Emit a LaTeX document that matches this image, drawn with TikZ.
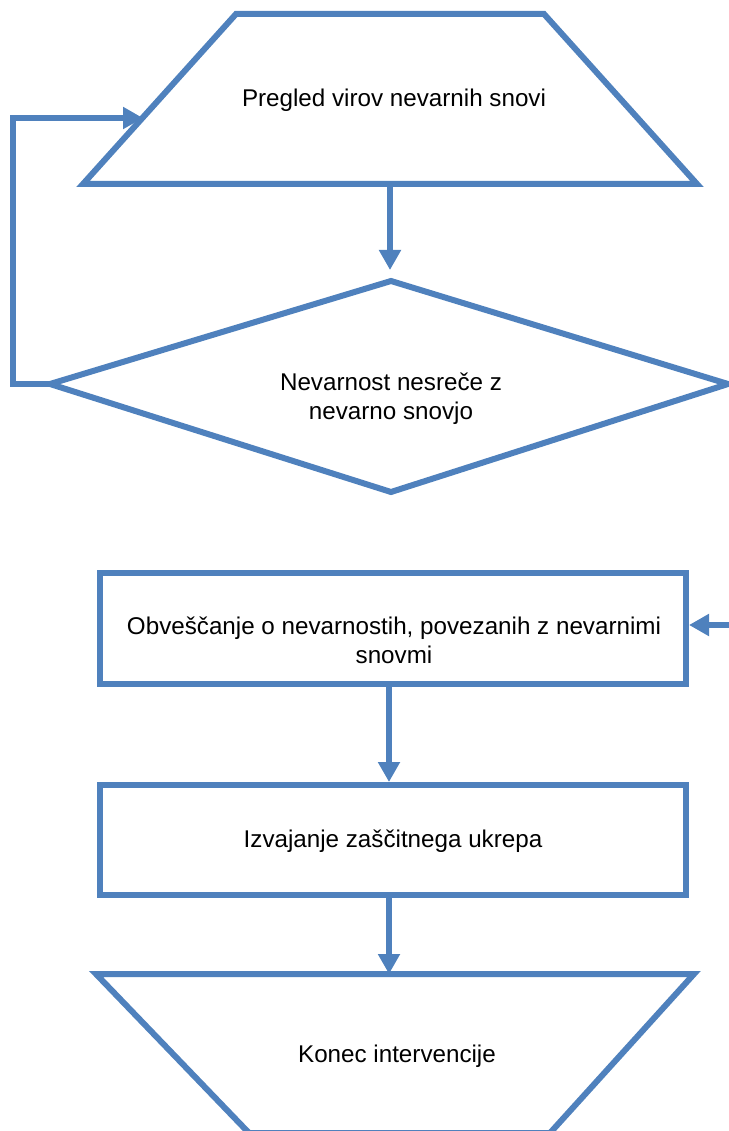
\documentclass[tikz,border=0pt]{standalone}
\usepackage{fontspec}
\setmainfont{Liberation Sans}
\usetikzlibrary{arrows.meta}
\definecolor{flowblue}{RGB}{79,129,189}
\tikzset{
  shapeline/.style={draw=flowblue, line width=6pt, line join=miter, fill=white},
  conn/.style={draw=flowblue, line width=6pt, -{Triangle[length=20pt,width=21pt]}},
  label/.style={align=center, text=black, font=\fontsize{24.2}{29}\selectfont, inner sep=0pt},
  box/.style={shapeline, minimum width=586pt, minimum height=111pt, inner sep=0pt}
}
\begin{document}
\begin{tikzpicture}[x=1pt,y=-1pt]
\useasboundingbox (0,0) rectangle (728,1131);
% top trapezoid
\coordinate (t1) at (236,14);
\coordinate (t2) at (544,14);
\coordinate (t3) at (697,184);
\coordinate (t4) at (83,184);
\draw[shapeline] (t1) -- (t2) -- (t3) -- (t4) -- cycle;
\node[label] (pregled) at (394,100) {Pregled virov nevarnih snovi};
\coordinate (tbot) at (390,184);
\coordinate (tleft) at (143,118);
% diamond
\coordinate (dtop) at (391,281);
\coordinate (dright) at (728,384);
\coordinate (dbot) at (391,492);
\coordinate (dleft) at (50,384);
\draw[shapeline] (dtop) -- (dright) -- (dbot) -- (dleft) -- cycle;
\node[label] (nevar) at (391,399) {Nevarnost nesreče z\\nevarno snovjo};
% boxes
\node[box] (obv) at (393,628.5) {};
\node[label] at (394,640) {Obveščanje o nevarnostih, povezanih z nevarnimi\\snovmi};
\node[box, minimum height=110pt] (izv) at (393,840) {};
\node[label] at (393,841) {Izvajanje zaščitnega ukrepa};
% bottom trapezoid
\coordinate (b1) at (96,974);
\coordinate (b2) at (694,974);
\coordinate (b3) at (550,1133);
\coordinate (b4) at (249,1133);
\draw[shapeline] (b1) -- (b2) -- (b3) -- (b4) -- cycle;
\node[label] (konec) at (397,1056) {Konec intervencije};
% connectors
\coordinate (dtopin) at (390,270);
\draw[conn] (tbot) -- (dtopin);
\coordinate (loopa) at (13,384);
\coordinate (loopb) at (13,118);
\draw[conn, line join=miter] (dleft) -- (loopa) -- (loopb) -- (tleft);
\coordinate (rin) at (732,625);
\draw[conn] (rin) -- (obv.east |- rin);
\draw[conn] (obv.south -| 389,0) -- (izv.north -| 389,0);
\coordinate (btop) at (389,974);
\draw[conn] (izv.south -| 389,0) -- (btop);
\end{tikzpicture}
\end{document}
